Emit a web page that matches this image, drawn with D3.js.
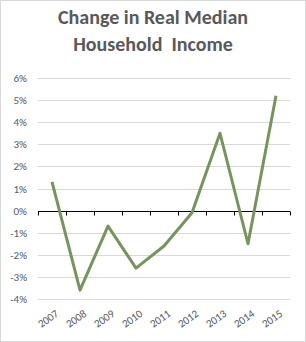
<!DOCTYPE html>
<html>
<head>
<meta charset="utf-8">
<script src="https://cdn.jsdelivr.net/npm/d3@7"></script>
<style>
  body { margin: 0; background: #fff; }
  svg { display: block; }
</style>
</head>
<body>
<svg id="chart" width="306" height="342"></svg>
<script>
var years = ["2007", "2008", "2009", "2010", "2011", "2012", "2013", "2014", "2015"]
var change = [1.3, -3.6, -0.7, -2.6, -1.6, -0.1, 3.5, -1.5, 5.2]
var yTicks = [6, 5, 4, 3, 2, 1, 0, -1, -2, -3, -4]
var titleLines = ["Change in Real Median", "Household  Income"]

const W = 306, H = 342
const plot = { left: 38, right: 290, top: 78, bottom: 299 }
const svg = d3.select("#chart")

svg.append("rect")
    .attr("x", 0.5).attr("y", 0.5)
    .attr("width", W - 1).attr("height", H - 1)
    .style("fill", "#fff")
    .style("stroke", "#d9d9d9")

svg.append("g")
    .selectAll("text")
    .data(titleLines)
    .enter().append("text")
    .attr("x", W / 2)
    .attr("y", (d, i) => 24 + i * 27)
    .attr("text-anchor", "middle")
    .style("font-family", "Carlito, 'Open Sans', sans-serif")
    .style("font-weight", "bold")
    .style("font-size", "20px")
    .style("white-space", "pre")
    .style("fill", "#595959")
    .text(d => d)

let x = d3.scaleBand().domain(years).range([plot.left, plot.right])
let y = d3.scaleLinear().domain([-4, 6]).range([plot.bottom, plot.top])

// gridlines
svg.append("g")
    .selectAll("line")
    .data(yTicks.filter(d => d != 0))
    .enter().append("line")
    .attr("x1", plot.left).attr("x2", plot.right)
    .attr("y1", d => Math.round(y(d)) + 0.5)
    .attr("y2", d => Math.round(y(d)) + 0.5)
    .style("stroke", "#d9d9d9")
    .style("stroke-width", 1)

// y labels
svg.append("g")
    .selectAll("text")
    .data(yTicks)
    .enter().append("text")
    .attr("x", 27)
    .attr("y", d => y(d) + 4)
    .attr("text-anchor", "end")
    .style("font-family", "Carlito, 'Open Sans', sans-serif")
    .style("font-size", "11px")
    .style("fill", "#595959")
    .text(d => d + "%")

// zero axis with category ticks
const zeroY = Math.round(y(0)) + 0.5
svg.append("line")
    .attr("x1", plot.left).attr("x2", plot.right)
    .attr("y1", zeroY).attr("y2", zeroY)
    .style("stroke", "#000")
    .style("stroke-width", 1)

const bounds = years.map(d => x(d)).concat([plot.right])
svg.append("g")
    .selectAll("line")
    .data(bounds)
    .enter().append("line")
    .attr("x1", d => Math.round(d) + 0.5).attr("x2", d => Math.round(d) + 0.5)
    .attr("y1", zeroY).attr("y2", zeroY + 4)
    .style("stroke", "#000")

// x labels, rotated
svg.append("g")
    .selectAll("text")
    .data(years)
    .enter().append("text")
    .attr("transform", d => `translate(${x(d) + x.bandwidth() / 2 + 3},${plot.bottom + 10}) rotate(-35)`)
    .attr("text-anchor", "end")
    .attr("dy", "0.7em")
    .style("font-family", "Carlito, 'Open Sans', sans-serif")
    .style("font-size", "11px")
    .style("fill", "#595959")
    .text(d => d)

// the line
let line = d3.line()
    .x((d, i) => x(years[i]) + x.bandwidth() / 2)
    .y(d => y(d))

svg.append("path")
    .datum(change)
    .attr("d", line)
    .style("fill", "none")
    .style("stroke", "#77945a")
    .style("stroke-width", 3)
    .style("stroke-linejoin", "round")
</script>
</body>
</html>
